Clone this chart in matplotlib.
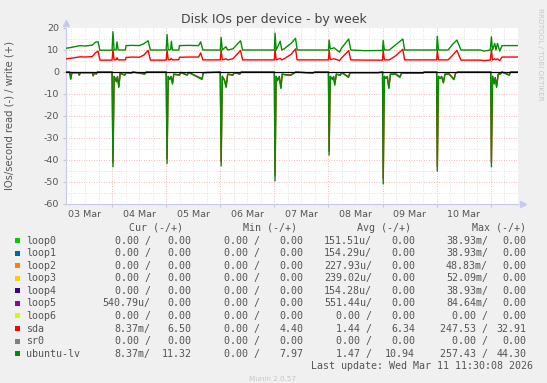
import matplotlib
matplotlib.use('Agg')
import matplotlib.pyplot as plt
from matplotlib.patches import Rectangle

plt.rcParams['axes.unicode_minus'] = False

# hours since 03 Mar 00:00
w_hours = [3.6, 6.0, 9.8, 12.0, 15.2, 16.7, 17.8, 18.6,
           24.0, 24.4, 24.9, 25.8, 26.2, 26.7, 29.9, 30.2, 33.0, 36.1, 38.0, 40.0, 41.0,
           48.0, 48.4, 48.9, 50.0, 50.3, 50.8, 53.6, 53.9, 58.0, 62.4, 63.3, 64.3,
           72.0, 72.4, 72.9, 74.5, 75.3, 77.6, 81.0, 81.9,
           96.0, 96.3, 96.8, 98.6, 99.3, 100.3, 103.4, 105.4, 106.1,
           120.0, 120.3, 120.8, 122.5, 124.9, 125.9, 129.0, 129.9, 136.0,
           144.0, 144.3, 144.8, 147.0, 150.0, 153.0, 153.8,
           168.0, 168.3, 168.8, 173.1, 175.0, 177.0, 178.8, 187.5, 189.0, 191.8,
           192.3, 192.8, 193.8, 194.3, 195.0, 196.0, 197.0, 204.1]
ulv_write = [10.8, 11.2, 12.0, 11.8, 12.2, 13.6, 13.7, 9.9,
             9.9, 18.3, 10.0, 10.1, 13.7, 10.0, 10.0, 12.0, 12.1, 12.0, 12.8, 14.2, 10.0,
             10.0, 17.0, 10.0, 10.2, 14.0, 10.0, 10.0, 12.0, 12.1, 12.0, 13.7, 10.0,
             10.0, 15.7, 10.0, 11.5, 10.0, 10.5, 14.2, 10.0,
             10.0, 17.7, 10.0, 14.0, 10.0, 10.5, 13.0, 15.3, 10.0,
             10.0, 14.5, 10.5, 11.0, 9.0, 11.0, 15.0, 10.0, 9.7,
             9.8, 14.3, 10.0, 10.0, 12.5, 15.0, 10.0,
             10.0, 16.2, 10.0, 10.0, 12.5, 14.5, 10.0, 10.0, 9.5, 10.0,
             16.0, 10.0, 13.0, 10.0, 13.0, 9.5, 12.0, 12.0]
sda_write = [6.0, 6.3, 6.9, 6.8, 7.0, 8.8, 9.5, 5.4,
             5.4, 10.2, 5.5, 5.6, 6.5, 5.5, 5.5, 6.6, 6.8, 6.7, 7.6, 9.8, 5.4,
             5.4, 10.0, 5.5, 5.6, 6.2, 5.5, 5.6, 6.7, 6.8, 6.8, 8.7, 5.5,
             5.5, 10.0, 5.5, 6.0, 5.5, 6.0, 9.8, 5.5,
             5.5, 10.5, 5.5, 6.2, 5.5, 6.0, 8.0, 10.5, 5.5,
             5.5, 10.0, 5.7, 6.0, 5.2, 6.5, 9.7, 5.5, 5.4,
             5.4, 10.0, 5.5, 5.5, 7.5, 10.3, 5.5,
             5.5, 10.0, 5.5, 5.5, 7.5, 9.8, 5.4, 5.4, 5.2, 5.4,
             10.0, 5.5, 6.0, 5.5, 6.0, 5.2, 6.8, 6.8]

r_hours = [3.6, 5.2, 5.65, 6.2, 9.0, 9.4, 10.0, 15.2, 15.6, 16.2, 17.0, 17.5,
           24.0, 24.4, 24.9, 25.9, 26.4, 27.0, 27.6, 29.6, 30.2, 32.6, 33.2, 38.5, 39.2,
           48.0, 48.4, 48.9, 49.6, 50.2, 50.8, 51.4, 53.9, 54.5, 57.3, 58.0, 63.9, 64.5,
           72.0, 72.4, 72.9, 73.9, 74.6, 75.3, 77.6, 78.2, 80.7, 81.3,
           96.0, 96.3, 96.8, 97.4, 98.2, 98.9, 99.5, 101.8, 103.3, 104.8, 105.5, 113.0, 114.0,
           120.0, 120.3, 120.8, 121.8, 122.3, 122.8, 123.5, 125.2, 126.0, 128.9, 129.6, 142.0,
           144.0, 144.3, 144.8, 145.4, 146.1, 146.8, 147.5, 149.8, 151.7, 152.4, 161.9, 162.5,
           168.0, 168.3, 168.8, 169.5, 170.2, 171.0, 171.7, 173.5, 175.7, 176.4, 177.5,
           192.0, 192.3, 192.8, 193.5, 194.0, 194.6, 195.3, 196.3, 197.0, 200.2, 200.8, 204.1]
ulv_read = [0, 0, -3.3, -0.3, -0.3, -1.5, -0.3, -0.3, -1.5, -0.5, -1.0, 0,
            0, -43.1, -2.0, -4.5, -2.0, -7.0, -0.5, -1.5, -0.3, -0.5, 0, -1.0, 0,
            0, -41.6, -2.0, -3.5, -2.0, -5.5, -1.0, -1.5, -0.2, -1.5, -0.2, -3.4, -0.3,
            0, -42.7, -2.0, -4.0, -7.0, -1.0, -1.5, -0.3, -1.0, 0,
            0, -49.5, -2.0, -4.0, -2.0, -7.5, -1.0, -1.5, -1.5, -0.5, 0, -0.5, 0,
            0, -37.8, -2.0, -3.5, -2.0, -6.0, -1.0, -1.5, -0.3, -2.5, -0.3, -0.3,
            0, -50.9, -2.0, -3.0, -2.0, -7.5, -1.0, -1.0, -2.5, -0.5, -0.5, 0,
            0, -45.1, -2.0, -3.0, -2.0, -5.0, -1.0, -1.0, -3.5, -0.5, 0,
            0, -43.1, -2.0, -5.5, -2.5, -7.0, -1.0, -1.0, 0, -1.5, 0, 0]
sda_read = [0, 0, -3.0, -0.3, -0.3, -1.3, -0.3, -0.3, -1.8, -0.5, -0.8, 0,
            0, -41.0, -2.0, -4.0, -2.2, -6.5, -0.5, -1.3, -0.3, -0.5, 0, -0.8, 0,
            0, -39.5, -2.0, -3.2, -2.2, -5.0, -1.0, -1.3, -0.2, -1.3, -0.2, -3.0, -0.3,
            0, -40.5, -2.0, -3.6, -6.5, -1.0, -1.3, -0.3, -0.8, 0,
            0, -47.0, -2.0, -3.6, -2.2, -7.0, -1.0, -1.3, -1.3, -0.5, 0, -0.5, 0,
            0, -36.0, -2.0, -3.2, -2.2, -5.5, -1.0, -1.3, -0.3, -2.2, -0.3, -0.3,
            0, -48.4, -2.0, -2.8, -2.2, -7.0, -1.0, -0.8, -2.2, -0.5, -0.5, 0,
            0, -42.9, -2.0, -2.8, -2.2, -4.6, -1.0, -0.8, -3.2, -0.5, 0,
            0, -41.0, -2.0, -5.0, -2.6, -6.5, -1.0, -0.8, 0, -1.3, 0, 0]

day_labels = ['03 Mar', '04 Mar', '05 Mar', '06 Mar', '07 Mar', '08 Mar', '09 Mar', '10 Mar']

names = ['loop0', 'loop1', 'loop2', 'loop3', 'loop4', 'loop5', 'loop6', 'sda', 'sr0', 'ubuntu-lv']
colors = ['#00cc00', '#0066b3', '#ff8000', '#ffcc00', '#330099', '#990099', '#ccff00',
          '#ff0000', '#808080', '#008f00']
cur_rd = ['0.00 ', '0.00 ', '0.00 ', '0.00 ', '0.00 ', '540.79u', '0.00 ', '8.37m', '0.00 ', '8.37m']
cur_wr = ['0.00', '0.00', '0.00', '0.00', '0.00', '0.00', '0.00', '6.50', '0.00', '11.32']
min_rd = ['0.00 '] * 10
min_wr = ['0.00', '0.00', '0.00', '0.00', '0.00', '0.00', '0.00', '4.40', '0.00', '7.97']
avg_rd = ['151.51u', '154.29u', '227.93u', '239.02u', '154.28u', '551.44u', '0.00 ', '1.44 ', '0.00 ', '1.47 ']
avg_wr = ['0.00', '0.00', '0.00', '0.00', '0.00', '0.00', '0.00', '6.34', '0.00', '10.94']
max_rd = ['38.93m', '38.93m', '48.83m', '52.09m', '38.93m', '84.64m', '0.00 ', '247.53 ', '0.00 ', '257.43 ']
max_wr = ['0.00', '0.00', '0.00', '0.00', '0.00', '0.00', '0.00', '32.91', '0.00', '44.30']

W, H = 547, 383
bg = '#f0f0f0'
txt = '#555555'


def fx(px):
    return px / W


def fy(py):
    return 1 - py / H


fig = plt.figure(figsize=(W / 100, H / 100), dpi=100, facecolor=bg)
ax = fig.add_axes([fx(66), fy(204), (518 - 66) / W, (204 - 28) / H])
ax.set_facecolor('white')

x0, x1 = 3.56, 204.1
ax.set_xlim(x0, x1)
ax.set_ylim(-60, 20)

# grid
for h in range(6, 205, 6):
    if h % 24 == 0:
        ax.axvline(h, color='#f0a0a0', lw=0.6, ls=(0, (1, 2)), zorder=1)
    else:
        ax.axvline(h, color='#d8d8d8', lw=0.6, ls=(0, (1, 2)), zorder=1)
for v in range(-55, 20, 5):
    if v % 10 == 0:
        ax.axhline(v, color='#f0a0a0', lw=0.6, ls=(0, (1, 2)), zorder=1)
    else:
        ax.axhline(v, color='#d8d8d8', lw=0.6, ls=(0, (1, 2)), zorder=1)

ax.plot(r_hours, sda_read, color='#ff0000', lw=1.0, zorder=3)
ax.plot(w_hours, sda_write, color='#ff0000', lw=1.0, zorder=3)
ax.plot(r_hours, ulv_read, color='#008f00', lw=1.0, zorder=4)
ax.plot(w_hours, ulv_write, color='#008f00', lw=1.0, zorder=4)
ax.axhline(0, color='black', lw=0.9, zorder=5)

ax.set_yticks(range(-60, 21, 10))
ax.set_yticklabels([str(v) for v in range(-60, 21, 10)])
ax.set_xticks(range(24, 200, 24))
ax.set_xticklabels([])
ax.set_xticks([12 + 24 * i for i in range(len(day_labels))], minor=True)
ax.set_xticklabels(day_labels, minor=True)
ax.tick_params(axis='x', which='minor', length=0, pad=4, labelsize=6.8, labelcolor=txt)
ax.tick_params(axis='x', which='major', length=2, color='#c8c8c8')
ax.tick_params(axis='y', length=2, color='#c8c8c8', pad=3, labelsize=6.8, labelcolor=txt)

for s in ['top', 'right']:
    ax.spines[s].set_visible(False)
for s in ['left', 'bottom']:
    ax.spines[s].set_color('#c8c8f0')
    ax.spines[s].set_linewidth(0.8)
ax.plot([0], [1.03], marker='^', ms=4, color='#c8c8f0', transform=ax.transAxes, clip_on=False)
ax.plot([1.012], [0], marker='>', ms=4, color='#c8c8f0', transform=ax.transAxes, clip_on=False)

fig.text(0.5, fy(19), 'Disk IOs per device - by week', ha='center', va='center',
         fontsize=9, color='#444444')
fig.text(fx(10), fy(116), 'IOs/second read (-) / write (+)', rotation=90,
         ha='center', va='center', fontsize=7.2, color=txt)
fig.text(fx(540), fy(8), 'RRDTOOL / TOBI OETIKER', rotation=270, ha='center', va='top',
         fontsize=5.2, color='#c8c8c8')

# legend table
mono = 'DejaVu Sans Mono'
fs = 7.2
hy = 227.7
for label, cx in [('Cur (-/+)', 155.7), ('Min (-/+)', 270), ('Avg (-/+)', 384.5), ('Max (-/+)', 499)]:
    fig.text(fx(cx), fy(hy), label, ha='center', va='center', family=mono, fontsize=fs, color=txt)

cols = [(cur_rd, cur_wr, 150.7, 191.5), (min_rd, min_wr, 260, 303.5),
        (avg_rd, avg_wr, 372.2, 415), (max_rd, max_wr, 488, 526.7)]
for i, name in enumerate(names):
    ry = 240.6 + i * 12.56
    fig.add_artist(Rectangle((fx(15), fy(ry + 2.5)), 5 / W, 5 / H, transform=fig.transFigure,
                             facecolor=colors[i], edgecolor='none'))
    fig.text(fx(26), fy(ry), name, ha='left', va='center', family=mono, fontsize=fs, color=txt)
    for rd, wr, xa, xb in cols:
        fig.text(fx(xa), fy(ry), rd[i] + '/', ha='right', va='center', family=mono, fontsize=fs, color=txt)
        fig.text(fx(xb), fy(ry), wr[i], ha='right', va='center', family=mono, fontsize=fs, color=txt)

fig.text(fx(532.6), fy(365.8), 'Last update: Wed Mar 11 11:30:08 2026', ha='right', va='center',
         family=mono, fontsize=fs, color=txt)
fig.text(fx(273), fy(379), 'Munin 2.0.57', ha='center', va='center', fontsize=5.2, color='#c8c8c8')

fig.savefig('out.png', dpi=100, facecolor=bg)
